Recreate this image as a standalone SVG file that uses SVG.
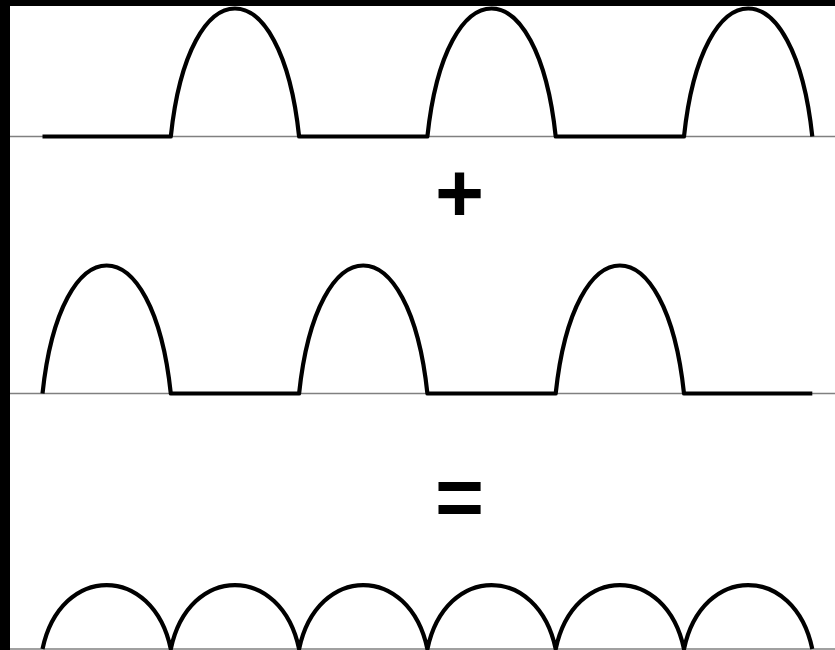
<svg xmlns="http://www.w3.org/2000/svg" width="835" height="650" viewBox="0 0 835 650">
  <style>
    .axis { stroke: #808080; stroke-width: 1.6; fill: none; }
    .wave { stroke: #000; stroke-width: 4.2; fill: none; stroke-linejoin: round; }
    .op { font-family: "Liberation Sans", Arial, sans-serif; font-weight: bold; font-size: 84px; fill: #000; text-anchor: middle; }
  </style>
  <rect x="0" y="0" width="835" height="650" fill="#000"/>
  <rect x="10" y="6" width="825" height="644" fill="#fff"/>
  <g id="axes">
    <line class="axis" x1="10" y1="136.5" x2="835" y2="136.5"/>
    <line class="axis" x1="10" y1="393.5" x2="835" y2="393.5"/>
    <line class="axis" x1="10" y1="649" x2="835" y2="649"/>
  </g>
  <g id="wave-top">
    <path class="wave" d="M42.5,136.5 H170.8 C188.8,-34.2 281.1,-34.2 299.1,136.5 H427.4 C445.4,-34.2 537.7,-34.2 555.7,136.5 H684 C702,-34.2 794.3,-34.2 812.3,136.5"/>
  </g>
  <g id="plus"><text class="op" x="459.5" y="222">+</text></g>
  <g id="wave-middle">
    <path class="wave" d="M42.5,393.5 C60.5,222.8 152.8,222.8 170.8,393.5 H299.1 C317.1,222.8 409.4,222.8 427.4,393.5 H555.7 C573.7,222.8 666,222.8 684,393.5 H812.3"/>
  </g>
  <g id="equals"><text class="op" x="459.5" y="526">=</text></g>
  <g id="wave-bottom">
    <path class="wave" d="M42.5,649 C60.5,563.7 152.8,563.7 170.8,649 C188.8,563.7 281.1,563.7 299.1,649 C317.1,563.7 409.4,563.7 427.4,649 C445.4,563.7 537.7,563.7 555.7,649 C573.7,563.7 666,563.7 684,649 C702,563.7 794.3,563.7 812.3,649"/>
  </g>
</svg>
